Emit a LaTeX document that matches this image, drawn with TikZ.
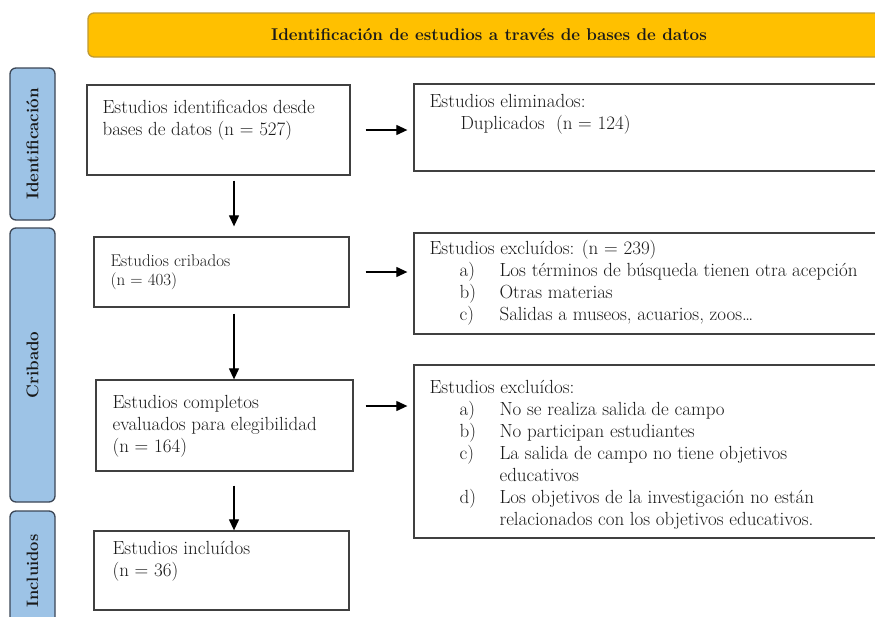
\documentclass[tikz,border=0pt]{standalone}
\usetikzlibrary{arrows.meta,positioning}
\definecolor{banyellow}{HTML}{FFC000}
\definecolor{banedge}{HTML}{C09A30}
\definecolor{phaseblue}{HTML}{9DC3E6}
\definecolor{phaseedge}{HTML}{3B4656}
\definecolor{boxedge}{HTML}{404040}
\definecolor{ink}{HTML}{1A1A1A}
% list entry of the exclusion boxes
\newcommand{\itm}[2]{\hspace*{30pt}\makebox[40pt][l]{#1}#2}

\begin{document}
\begin{tikzpicture}[x=1pt,y=-1pt,
    box/.style={draw=boxedge, line width=1.3pt, fill=white, inner sep=0pt},
    txt/.style={anchor=north west, align=left, inner sep=0pt, text=ink,
        font=\fontsize{19}{22}\selectfont},
    phase/.style={draw=phaseedge, line width=1.3pt, fill=phaseblue, rounded corners=6pt,
        rotate=90, minimum height=45pt, inner sep=0pt, text=ink,
        font=\bfseries\fontsize{17}{17}\selectfont},
    flow/.style={-{Triangle[length=11pt,width=10pt]}, line width=1.2pt}]
    \useasboundingbox (0,0) rectangle (875,616);
    \clip (0,0) rectangle (875,616);

    % banner
    \node[draw=banedge, line width=1.3pt, fill=banyellow, rounded corners=6pt,
        minimum width=802pt, minimum height=44pt, text=ink,
        font=\bfseries\fontsize{17}{17}\selectfont] (banner) at (489,35)
        {Identificación de estudios a través de bases de datos};

    % phases
    \node[phase, minimum width=152pt] (iden) at (32.5,144) {Identificación};
    \node[phase, minimum width=274pt] (crib) at (32.5,365) {Cribado};
    \node[phase, minimum width=120pt, font=\bfseries\fontsize{16.5}{16.5}\selectfont] (incl) at (32.5,571) {Incluidos};

    % left column
    \node[box, minimum width=263pt, minimum height=90pt] (ident) at (218.5,130) {};
    \node[box, minimum width=255pt, minimum height=70pt] (cribados) at (221.5,272) {};
    \node[box, minimum width=257pt, minimum height=91pt] (eleg) at (224.5,425.5) {};
    \node[box, minimum width=255pt, minimum height=79pt] (incluidos) at (221.5,570.5) {};

    % right column
    \node[box, minimum width=476pt, minimum height=87pt] (elim) at (652,127.5) {};
    \node[box, minimum width=476pt, minimum height=101pt] (excl1) at (652,283.5) {};
    \node[box, minimum width=476pt, minimum height=173pt] (excl2) at (652,451.5) {};

    % texts
    \node[txt] (identtxt) at ([xshift=16pt,yshift=-16pt]ident.north west)
        {Estudios identificados desde\\bases de datos (n = 527)};
    \node[txt] (elimtxt) at ([xshift=16pt,yshift=-11pt]elim.north west)
        {Estudios eliminados:\\\hspace*{31pt}Duplicados~~(n = 124)};
    \node[txt, font=\fontsize{17}{19}\selectfont] (cribtxt) at ([xshift=17pt,yshift=-18pt]cribados.north west)
        {Estudios cribados\\(n = 403)};
    \node[txt] (excl1txt) at ([xshift=16pt,yshift=-8pt]excl1.north west)
        {Estudios excluídos: (n = 239)\\
         \itm{a)}{Los términos de búsqueda tienen otra acepción}\\
         \itm{b)}{Otras materias}\\
         \itm{c)}{Salidas a museos, acuarios, zoos\dots}};
    \node[txt] (elegtxt) at ([xshift=17pt,yshift=-16pt]eleg.north west)
        {Estudios completos\\evaluados para elegibilidad\\(n = 164)};
    \node[txt] (excl2txt) at ([xshift=16pt,yshift=-16pt]excl2.north west)
        {Estudios excluídos:\\
         \itm{a)}{No se realiza salida de campo}\\
         \itm{b)}{No participan estudiantes}\\
         \itm{c)}{La salida de campo no tiene objetivos}\\
         \hspace*{70pt}educativos\\
         \itm{d)}{Los objetivos de la investigación no están}\\
         \hspace*{70pt}relacionados con los objetivos educativos.};
    \node[txt] (incltxt) at ([xshift=19pt,yshift=-11pt]incluidos.north west)
        {Estudios incluídos\\(n = 36)};

    % arrows
    \coordinate (ax) at (234,0);
    \draw[flow, shorten <=5pt, shorten >=10pt] (ident.south -| ax) -- (cribados.north -| ax);
    \draw[flow, shorten <=6pt] (cribados.south -| ax) -- (eleg.north -| ax);
    \draw[flow, shorten <=14pt] (eleg.south -| ax) -- (incluidos.north -| ax);
    \draw[flow, shorten <=15pt, shorten >=6pt] (ident.east) -- (ident.east -| elim.west);
    \draw[flow, shorten <=16pt, shorten >=6pt] (cribados.east) -- (cribados.east -| excl1.west);
    \draw[flow, shorten <=12pt, shorten >=6pt] ([yshift=19.5pt]eleg.east) -- ([yshift=19.5pt]eleg.east -| excl2.west);
\end{tikzpicture}
\end{document}
